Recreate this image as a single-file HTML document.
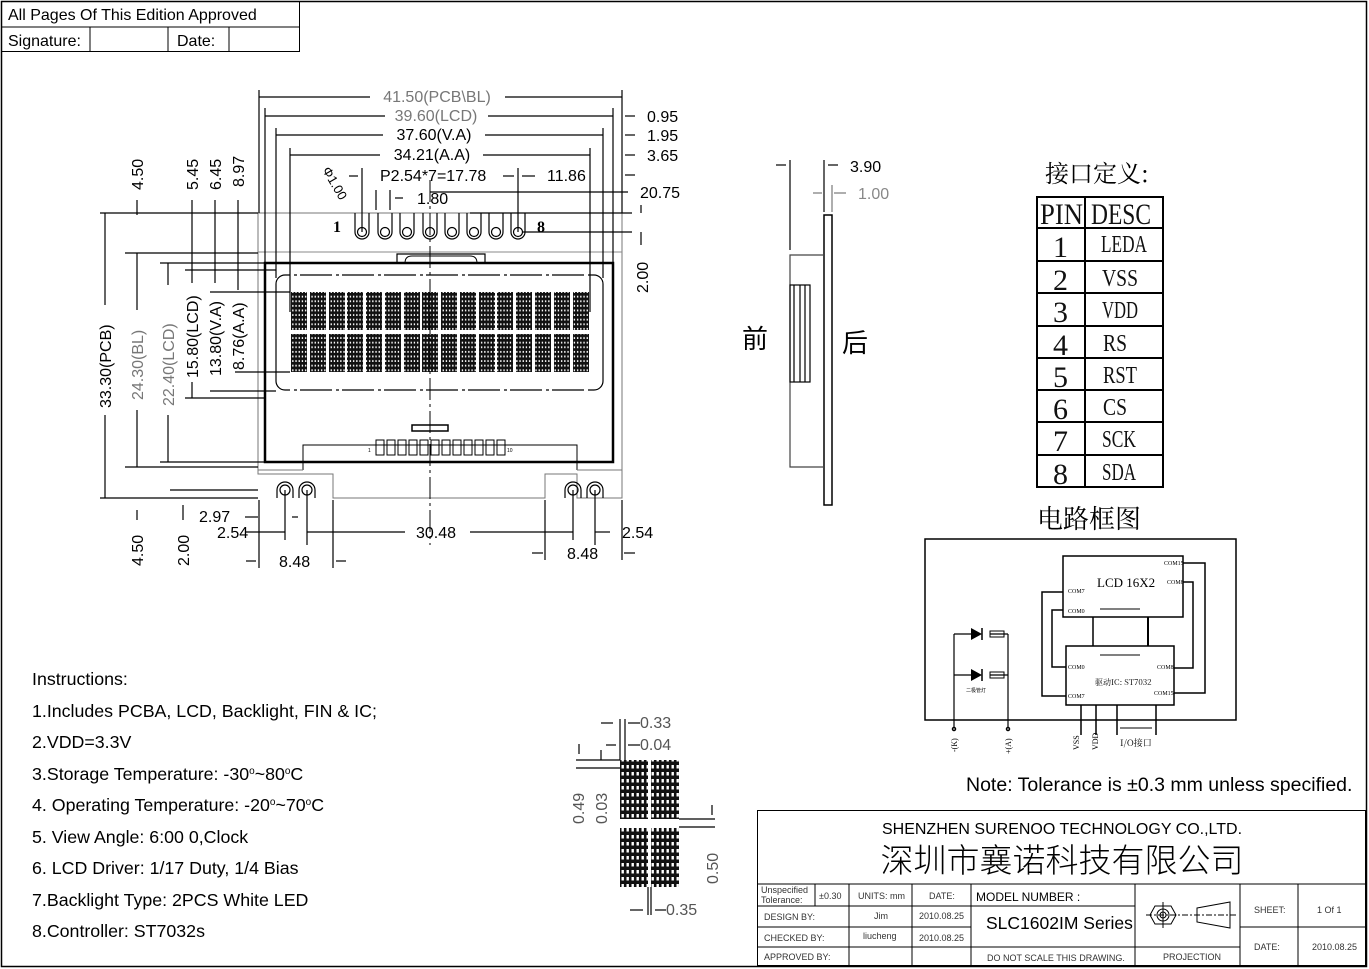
<!DOCTYPE html>
<html><head><meta charset="utf-8"><style>
html,body{margin:0;padding:0;background:#fff;}
svg{display:block;font-family:"Liberation Sans","Noto Sans CJK SC",sans-serif;}
.s{font-family:"Liberation Serif","Noto Serif CJK SC",serif;}
</style></head><body>
<svg width="1369" height="969" viewBox="0 0 1369 969" xmlns="http://www.w3.org/2000/svg">
<defs>
<pattern id="dots" width="3.2" height="4.6" patternUnits="userSpaceOnUse">
<rect width="3.2" height="4.6" fill="#111"/><rect x="1" y="1.3" width="1.3" height="1.9" fill="#fff"/>
</pattern>
<pattern id="dots2" width="5" height="7" patternUnits="userSpaceOnUse">
<rect width="5" height="7" fill="#111"/><rect x="1.5" y="2" width="2.4" height="3.5" fill="#fff"/>
</pattern>
</defs>
<rect width="1369" height="969" fill="#fff"/>
<rect x="1.5" y="1.5" width="1365" height="965" fill="none" stroke="#000" stroke-width="1.5"/>
<g stroke="#000" stroke-width="1" fill="none">
<rect x="1.5" y="1.5" width="298" height="50"/>
<line x1="1" y1="27" x2="300" y2="27"/>
<line x1="90" y1="27" x2="90" y2="51"/><line x1="168" y1="27" x2="168" y2="51"/><line x1="229" y1="27" x2="229" y2="51"/>
</g>
<g font-size="16" fill="#000">
<text x="8" y="20">All Pages Of This Edition Approved</text>
<text x="8" y="46">Signature:</text><text x="177" y="46">Date:</text>
</g>

<g stroke="#000" fill="none" stroke-width="1">
<path d="M258,213 H622 V498 H577 V474 H545 V498 H333 V474 H258 Z" stroke="#777"/>
<line x1="258" y1="252" x2="622" y2="252" stroke="#888"/>
<path d="M397,263 V254 H485 V263" stroke-width="1.2"/>
<path d="M405,263 Q405,256 412,256 H470 Q477,256 477,263"/>
<rect x="265" y="263" width="348" height="199" stroke-width="2.5"/>
<rect x="276" y="275" width="327" height="115" rx="9" stroke-width="1.2"/>
<line x1="290" y1="275" x2="590" y2="275" stroke="#fff" stroke-width="2.5" stroke-dasharray="4 3 3 32"/>
<line x1="290" y1="390" x2="590" y2="390" stroke="#fff" stroke-width="2.5" stroke-dasharray="4 3 3 32"/>
<path d="M303,470 V445 H577 V470" />
<path d="M258,470 H303 M577,470 H622" stroke="#777"/>
<rect x="412" y="425" width="36" height="6" stroke-width="1.5"/>
</g>
<g stroke="#000" fill="none" stroke-width="1">
<rect x="376" y="440" width="8" height="15"/><rect x="387" y="440" width="8" height="15"/><rect x="398" y="440" width="8" height="15"/><rect x="409" y="440" width="8" height="15"/><rect x="420" y="440" width="8" height="15"/><rect x="431" y="440" width="8" height="15"/><rect x="442" y="440" width="8" height="15"/><rect x="453" y="440" width="8" height="15"/><rect x="464" y="440" width="8" height="15"/><rect x="475" y="440" width="8" height="15"/><rect x="486" y="440" width="8" height="15"/><rect x="497" y="440" width="8" height="15"/>
</g>
<text x="368" y="452" font-size="5">1</text><text x="507" y="452" font-size="5">10</text>
<g fill="url(#dots)">
<rect x="291" y="292" width="16" height="38"/><rect x="310" y="292" width="16" height="38"/><rect x="329" y="292" width="16" height="38"/><rect x="347" y="292" width="16" height="38"/><rect x="366" y="292" width="16" height="38"/><rect x="385" y="292" width="16" height="38"/><rect x="404" y="292" width="16" height="38"/><rect x="422" y="292" width="16" height="38"/><rect x="441" y="292" width="16" height="38"/><rect x="460" y="292" width="16" height="38"/><rect x="479" y="292" width="16" height="38"/><rect x="497" y="292" width="16" height="38"/><rect x="516" y="292" width="16" height="38"/><rect x="535" y="292" width="16" height="38"/><rect x="554" y="292" width="16" height="38"/><rect x="573" y="292" width="16" height="38"/>
<rect x="291" y="334" width="16" height="38"/><rect x="310" y="334" width="16" height="38"/><rect x="329" y="334" width="16" height="38"/><rect x="347" y="334" width="16" height="38"/><rect x="366" y="334" width="16" height="38"/><rect x="385" y="334" width="16" height="38"/><rect x="404" y="334" width="16" height="38"/><rect x="422" y="334" width="16" height="38"/><rect x="441" y="334" width="16" height="38"/><rect x="460" y="334" width="16" height="38"/><rect x="479" y="334" width="16" height="38"/><rect x="497" y="334" width="16" height="38"/><rect x="516" y="334" width="16" height="38"/><rect x="535" y="334" width="16" height="38"/><rect x="554" y="334" width="16" height="38"/><rect x="573" y="334" width="16" height="38"/>
</g>
<g stroke="#000" fill="none" stroke-width="1.2">
<path d="M355,213 V232 A7,7 0 0 0 369,232 V213"/><circle cx="362" cy="232" r="4.5"/>
<path d="M378,213 V232 A7,7 0 0 0 392,232 V213"/><circle cx="385" cy="232" r="4.5"/>
<path d="M400,213 V232 A7,7 0 0 0 414,232 V213"/><circle cx="407" cy="232" r="4.5"/>
<path d="M423,213 V232 A7,7 0 0 0 437,232 V213"/><circle cx="430" cy="232" r="4.5"/>
<path d="M445,213 V232 A7,7 0 0 0 459,232 V213"/><circle cx="452" cy="232" r="4.5"/>
<path d="M467,213 V232 A7,7 0 0 0 481,232 V213"/><circle cx="474" cy="232" r="4.5"/>
<path d="M489,213 V232 A7,7 0 0 0 503,232 V213"/><circle cx="496" cy="232" r="4.5"/>
<path d="M511,213 V232 A7,7 0 0 0 525,232 V213"/><circle cx="518" cy="232" r="4.5"/>
<path d="M277,498 V490 A8,8 0 0 1 293,490 V498"/><circle cx="285" cy="490" r="5"/>
<path d="M299,498 V490 A8,8 0 0 1 315,490 V498"/><circle cx="307" cy="490" r="5"/>
<path d="M565,498 V490 A8,8 0 0 1 581,490 V498"/><circle cx="573" cy="490" r="5"/>
<path d="M587,498 V490 A8,8 0 0 1 603,490 V498"/><circle cx="595" cy="490" r="5"/>
</g>
<text x="333" y="232" class="s" font-size="16" font-weight="bold">1</text>
<text x="537" y="232" class="s" font-size="16" font-weight="bold">8</text>
<line x1="430" y1="180" x2="430" y2="545" stroke="#000" stroke-width="1" stroke-dasharray="22 4 3 4"/>

<g stroke="#000" stroke-width="1.2" fill="none">
<line x1="259" y1="90" x2="259" y2="213"/><line x1="622" y1="90" x2="622" y2="213"/>
<line x1="265" y1="108" x2="265" y2="263"/><line x1="613" y1="108" x2="613" y2="263"/>
<line x1="276" y1="128" x2="276" y2="278"/><line x1="603" y1="128" x2="603" y2="278"/>
<line x1="290" y1="148" x2="290" y2="312"/><line x1="590" y1="148" x2="590" y2="312"/>
<line x1="259" y1="97" x2="370" y2="97"/><line x1="505" y1="97" x2="622" y2="97"/>
<line x1="265" y1="116" x2="385" y2="116"/><line x1="488" y1="116" x2="613" y2="116"/>
<line x1="276" y1="135" x2="383" y2="135"/><line x1="485" y1="135" x2="603" y2="135"/>
<line x1="290" y1="155" x2="380" y2="155"/><line x1="483" y1="155" x2="590" y2="155"/>
<line x1="362" y1="168" x2="362" y2="232"/><line x1="518" y1="168" x2="518" y2="232"/>
<line x1="349" y1="176" x2="358" y2="176"/><line x1="503" y1="176" x2="514" y2="176"/><line x1="522" y1="176" x2="535" y2="176"/>
<line x1="376" y1="190" x2="376" y2="210"/><line x1="390" y1="190" x2="390" y2="210"/>
<line x1="395" y1="198" x2="403" y2="198"/>
<line x1="430" y1="192" x2="628" y2="192"/>
<line x1="522" y1="232" x2="632" y2="232"/>
<line x1="470" y1="213" x2="632" y2="213"/>
<line x1="625" y1="116" x2="635" y2="116"/><line x1="625" y1="135" x2="635" y2="135"/><line x1="625" y1="155" x2="635" y2="155"/><line x1="625" y1="175" x2="635" y2="175"/>
<line x1="641" y1="205" x2="641" y2="213"/><line x1="641" y1="232" x2="641" y2="245"/>
<line x1="100" y1="213" x2="258" y2="213"/><line x1="125" y1="253" x2="258" y2="253"/>
<line x1="160" y1="263" x2="265" y2="263"/><line x1="185" y1="270" x2="276" y2="270"/>
<line x1="210" y1="292" x2="290" y2="292"/><line x1="235" y1="372" x2="290" y2="372"/>
<line x1="185" y1="398" x2="265" y2="398"/><line x1="210" y1="391" x2="276" y2="391"/>
<line x1="160" y1="462" x2="265" y2="462"/><line x1="125" y1="467" x2="258" y2="467"/>
<line x1="100" y1="498" x2="258" y2="498"/>
<line x1="105" y1="213" x2="105" y2="305"/><line x1="105" y1="415" x2="105" y2="498"/>
<line x1="137" y1="253" x2="137" y2="310"/><line x1="137" y1="410" x2="137" y2="467"/>
<line x1="168" y1="263" x2="168" y2="285"/><line x1="168" y1="415" x2="168" y2="462"/>
<line x1="192" y1="200" x2="192" y2="283"/><line x1="192" y1="382" x2="192" y2="398"/>
<line x1="215" y1="200" x2="215" y2="283"/><line x1="238" y1="200" x2="238" y2="290"/>
<line x1="137" y1="200" x2="137" y2="215"/>
<line x1="285" y1="490" x2="285" y2="540"/><line x1="307" y1="490" x2="307" y2="545"/>
<line x1="573" y1="490" x2="573" y2="540"/><line x1="595" y1="490" x2="595" y2="545"/>
<line x1="259" y1="500" x2="259" y2="568"/><line x1="622" y1="500" x2="622" y2="560"/>
<line x1="333" y1="500" x2="333" y2="568"/><line x1="545" y1="500" x2="545" y2="560"/>
<line x1="245" y1="532" x2="285" y2="532"/><line x1="307" y1="532" x2="405" y2="532"/><line x1="470" y1="532" x2="573" y2="532"/><line x1="595" y1="532" x2="610" y2="532"/>
<line x1="245" y1="517" x2="258" y2="517"/><line x1="292" y1="517" x2="298" y2="517"/>
<line x1="246" y1="561" x2="256" y2="561"/><line x1="336" y1="561" x2="346" y2="561"/>
<line x1="532" y1="553" x2="543" y2="553"/><line x1="624" y1="553" x2="635" y2="553"/>
<line x1="137" y1="510" x2="137" y2="520"/><line x1="183" y1="505" x2="183" y2="520"/>
<line x1="170" y1="490" x2="258" y2="490"/>
</g>
<g font-size="16" fill="#000">
<text x="437" y="102" text-anchor="middle" fill="#777">41.50(PCB\BL)</text>
<text x="436" y="121" text-anchor="middle" fill="#777">39.60(LCD)</text>
<text x="434" y="140" text-anchor="middle">37.60(V.A)</text>
<text x="432" y="160" text-anchor="middle">34.21(A.A)</text>
<text x="380" y="181">P2.54*7=17.78</text>
<text x="547" y="181">11.86</text>
<text x="417" y="204">1.80</text>
<text x="647" y="122">0.95</text><text x="647" y="141">1.95</text><text x="647" y="161">3.65</text>
<text x="640" y="198">20.75</text>
<text x="0" y="0" transform="translate(322,170) rotate(60)" font-size="13">Φ1.00</text>
<text x="0" y="0" transform="translate(648,293) rotate(-90)">2.00</text>
<text x="0" y="0" transform="translate(143,190) rotate(-90)">4.50</text>
<text x="0" y="0" transform="translate(198,190) rotate(-90)">5.45</text>
<text x="0" y="0" transform="translate(221,190) rotate(-90)">6.45</text>
<text x="0" y="0" transform="translate(244,187) rotate(-90)">8.97</text>
<text x="0" y="0" transform="translate(111,408) rotate(-90)">33.30(PCB)</text>
<text x="0" y="0" transform="translate(143,400) rotate(-90)" fill="#777">24.30(BL)</text>
<text x="0" y="0" transform="translate(174,406) rotate(-90)" fill="#777">22.40(LCD)</text>
<text x="0" y="0" transform="translate(198,378) rotate(-90)">15.80(LCD)</text>
<text x="0" y="0" transform="translate(221,376) rotate(-90)">13.80(V.A)</text>
<text x="0" y="0" transform="translate(244,370) rotate(-90)">8.76(A.A)</text>
<text x="199" y="522">2.97</text><text x="217" y="538">2.54</text>
<text x="416" y="538">30.48</text><text x="622" y="538">2.54</text>
<text x="279" y="567">8.48</text><text x="567" y="559">8.48</text>
<text x="0" y="0" transform="translate(143,566) rotate(-90)">4.50</text>
<text x="0" y="0" transform="translate(189,566) rotate(-90)">2.00</text>
</g>

<g stroke="#000" fill="none" stroke-width="1.2">
<rect x="824" y="215" width="8" height="290" stroke-width="1.5"/>
<path d="M824,255 H790 V467 H824" stroke="#444"/>
<rect x="790" y="285" width="20" height="97" stroke-width="1.2"/>
<line x1="794" y1="285" x2="794" y2="382"/><line x1="800" y1="285" x2="800" y2="382"/><line x1="805" y1="285" x2="805" y2="382"/>
<line x1="790" y1="160" x2="790" y2="250"/><line x1="824" y1="160" x2="824" y2="212"/>
<line x1="776" y1="165" x2="786" y2="165"/><line x1="828" y1="165" x2="838" y2="165"/>
<line x1="813" y1="193" x2="822" y2="193" stroke="#777"/><line x1="834" y1="193" x2="846" y2="193" stroke="#777"/>
<line x1="832" y1="185" x2="832" y2="212" stroke="#777"/>
</g>
<text x="850" y="172" font-size="16">3.90</text>
<text x="858" y="199" font-size="16" fill="#888">1.00</text>
<text x="742" y="348" font-size="26" font-family="Noto Sans CJK SC,sans-serif">前</text>
<text x="842" y="352" font-size="26" font-family="Noto Sans CJK SC,sans-serif">后</text>

<text x="1045" y="182" font-size="24" font-family="Noto Serif CJK SC,serif">接口定义:</text>
<g stroke="#000" stroke-width="2" fill="none">
<rect x="1037" y="197" width="126" height="290"/>
<line x1="1085" y1="197" x2="1085" y2="487"/>
<line x1="1037" y1="228" x2="1163" y2="228"/><line x1="1037" y1="261" x2="1163" y2="261"/><line x1="1037" y1="293" x2="1163" y2="293"/><line x1="1037" y1="326" x2="1163" y2="326"/><line x1="1037" y1="358" x2="1163" y2="358"/><line x1="1037" y1="390" x2="1163" y2="390"/><line x1="1037" y1="422" x2="1163" y2="422"/><line x1="1037" y1="455" x2="1163" y2="455"/>
</g>
<g class="s" font-size="30" fill="#111">
<text x="1040" y="224" textLength="43" lengthAdjust="spacingAndGlyphs">PIN</text>
<text x="1091" y="224" textLength="60" lengthAdjust="spacingAndGlyphs">DESC</text>
<text x="1053" y="257">1</text><text x="1053" y="290">2</text><text x="1053" y="322">3</text><text x="1053" y="355">4</text><text x="1053" y="387">5</text><text x="1053" y="419">6</text><text x="1053" y="451">7</text><text x="1053" y="484">8</text>
</g>
<g class="s" font-size="24" fill="#111">
<text x="1101" y="252" textLength="46" lengthAdjust="spacingAndGlyphs">LEDA</text>
<text x="1102" y="286" textLength="36" lengthAdjust="spacingAndGlyphs">VSS</text>
<text x="1102" y="318" textLength="36" lengthAdjust="spacingAndGlyphs">VDD</text>
<text x="1103" y="351" textLength="24" lengthAdjust="spacingAndGlyphs">RS</text>
<text x="1103" y="383" textLength="34" lengthAdjust="spacingAndGlyphs">RST</text>
<text x="1103" y="415" textLength="24" lengthAdjust="spacingAndGlyphs">CS</text>
<text x="1102" y="447" textLength="34" lengthAdjust="spacingAndGlyphs">SCK</text>
<text x="1102" y="480" textLength="34" lengthAdjust="spacingAndGlyphs">SDA</text>
</g>
<text x="1037" y="528" font-size="26" font-family="Noto Serif CJK SC,serif">电路框图</text>

<g stroke="#000" fill="none" stroke-width="1.5">
<rect x="925" y="539" width="311" height="181"/>
<rect x="1063" y="556" width="120" height="61"/>
<rect x="1066" y="646" width="108" height="59"/>
<path d="M1063,592 H1042 V696 H1066"/>
<path d="M1063,610 H1052 V667 H1066"/>
<path d="M1183,563 H1205 V693 H1174"/>
<path d="M1183,582 H1193 V668 H1174"/>
<line x1="1093" y1="617" x2="1093" y2="646"/><line x1="1148" y1="617" x2="1148" y2="646" stroke-width="2"/>
<line x1="1081" y1="705" x2="1081" y2="735"/><line x1="1096" y1="705" x2="1096" y2="735"/><line x1="1117" y1="705" x2="1117" y2="735"/><line x1="1156" y1="705" x2="1156" y2="735"/>
<line x1="1120" y1="728" x2="1152" y2="728" stroke-width="1"/>
<line x1="1100" y1="609" x2="1140" y2="609" stroke-width="1"/>
<line x1="1100" y1="655" x2="1140" y2="655" stroke-width="1"/>
<path d="M954,634 V727 M1008,634 V727" stroke-width="1.2"/>
<path d="M954,634 H971 M990,634 H1008 M954,675 H971 M990,675 H1008" stroke-width="1.2"/>
<rect x="990" y="631" width="14" height="6" stroke-width="1"/>
<rect x="990" y="672" width="14" height="6" stroke-width="1"/>
<circle cx="954" cy="729" r="1.5"/><circle cx="1008" cy="729" r="1.5"/>
</g>
<path d="M971,628 V640 L982,634 Z M971,669 V681 L982,675 Z" fill="#000"/>
<path d="M982,628 V640 M982,669 V681" stroke="#000" stroke-width="1.5"/>
<g font-size="6" class="s" fill="#000">
<text x="1097" y="587" font-size="13">LCD 16X2</text>
<text x="1068" y="593">COM7</text><text x="1068" y="613">COM0</text>
<text x="1164" y="565">COM15</text><text x="1167" y="584">COM8</text>
<text x="1068" y="669">COM0</text><text x="1068" y="698">COM7</text>
<text x="1157" y="669">COM8</text><text x="1154" y="695">COM15</text>
<text x="1095" y="685" font-size="8" font-family="Noto Serif CJK SC,serif">驱动IC: ST7032</text>
<text x="966" y="692" font-size="5" font-family="Noto Sans CJK SC,sans-serif">二极管灯</text>
<text x="1120" y="746" font-size="9" font-family="Noto Serif CJK SC,serif">I/O接口</text>
<text x="0" y="0" transform="translate(1079,750) rotate(-90)" font-size="8">VSS</text>
<text x="0" y="0" transform="translate(1098,750) rotate(-90)" font-size="8">VDD</text>
<text x="0" y="0" transform="translate(957,752) rotate(-90)" font-size="8">-(K)</text>
<text x="0" y="0" transform="translate(1011,754) rotate(-90)" font-size="8">+(A)</text>
</g>

<text x="966" y="791" font-size="19.5">Note: Tolerance is ±0.3 mm unless specified.</text>

<g font-size="17.8" fill="#000">
<text x="32" y="685">Instructions:</text>
<text x="32" y="717">1.Includes PCBA, LCD, Backlight, FIN &amp; IC;</text>
<text x="32" y="748">2.VDD=3.3V</text>
<text x="32" y="780">3.Storage Temperature: -30<tspan font-size="10" dy="-6">o</tspan><tspan dy="6">~80</tspan><tspan font-size="10" dy="-6">o</tspan><tspan dy="6">C</tspan></text>
<text x="32" y="811">4. Operating Temperature: -20<tspan font-size="10" dy="-6">o</tspan><tspan dy="6">~70</tspan><tspan font-size="10" dy="-6">o</tspan><tspan dy="6">C</tspan></text>
<text x="32" y="843">5. View Angle: 6:00 0,Clock</text>
<text x="32" y="874">6. LCD Driver: 1/17 Duty, 1/4 Bias</text>
<text x="32" y="906">7.Backlight Type: 2PCS White LED</text>
<text x="32" y="937">8.Controller: ST7032s</text>
</g>

<g fill="url(#dots2)">
<rect x="620" y="760" width="28" height="59"/><rect x="651" y="760" width="28" height="59"/>
<rect x="620" y="828" width="28" height="59"/><rect x="651" y="828" width="28" height="59"/>
</g>
<g stroke="#000" stroke-width="1.2" fill="none">
<line x1="620" y1="719" x2="620" y2="760"/><line x1="625" y1="719" x2="625" y2="760"/>
<line x1="601" y1="723" x2="613" y2="723"/><line x1="628" y1="723" x2="640" y2="723"/>
<line x1="606" y1="745" x2="616" y2="745"/><line x1="628" y1="745" x2="640" y2="745"/>
<line x1="576" y1="760" x2="620" y2="760"/><line x1="576" y1="768" x2="620" y2="768"/>
<line x1="579" y1="744" x2="579" y2="754"/><line x1="601" y1="750" x2="601" y2="760"/>
<line x1="679" y1="819" x2="715" y2="819"/><line x1="679" y1="827" x2="715" y2="827"/>
<line x1="712" y1="805" x2="712" y2="815"/>
<line x1="648" y1="887" x2="648" y2="915"/><line x1="651" y1="887" x2="651" y2="915"/>
<line x1="630" y1="910" x2="643" y2="910"/><line x1="655" y1="910" x2="666" y2="910"/>
</g>
<g font-size="16" fill="#555">
<text x="640" y="728">0.33</text><text x="640" y="750">0.04</text><text x="666" y="915">0.35</text>
<text x="0" y="0" transform="translate(584,824) rotate(-90)">0.49</text>
<text x="0" y="0" transform="translate(607,824) rotate(-90)">0.03</text>
<text x="0" y="0" transform="translate(718,884) rotate(-90)">0.50</text>
</g>

<g stroke="#000" fill="none" stroke-width="1">
<rect x="757.5" y="810.5" width="608" height="155"/>
<line x1="757" y1="884" x2="1366" y2="884"/>
<line x1="757" y1="906" x2="1135" y2="906"/><line x1="757" y1="927" x2="971" y2="927"/><line x1="757" y1="947" x2="1240" y2="947"/>
<line x1="1240" y1="927" x2="1366" y2="927"/>
<line x1="815" y1="884" x2="815" y2="906"/><line x1="849" y1="884" x2="849" y2="966"/>
<line x1="912" y1="884" x2="912" y2="966"/><line x1="971" y1="884" x2="971" y2="966"/>
<line x1="1135" y1="884" x2="1135" y2="966"/><line x1="1240" y1="884" x2="1240" y2="966"/>
<line x1="1298" y1="884" x2="1298" y2="966"/>
<circle cx="1163" cy="915" r="6"/><circle cx="1163" cy="915" r="3"/>
<path d="M1155,906 L1171,906 L1176,915 L1171,924 L1155,924 L1150,915 Z"/>
<line x1="1163" y1="902" x2="1163" y2="928"/>
<path d="M1197,908 L1230,902 L1230,928 L1197,922 Z"/>
<line x1="1146" y1="915" x2="1236" y2="915" stroke-dasharray="6 2 2 2"/>
</g>
<text x="1062" y="834" font-size="16" text-anchor="middle">SHENZHEN SURENOO TECHNOLOGY CO.,LTD.</text>
<text x="1062" y="872" font-size="33" text-anchor="middle" font-family="Noto Sans CJK SC,sans-serif" font-weight="300">深圳市襄诺科技有限公司</text>
<g font-size="9" fill="#333">
<text x="761" y="893">Unspecified</text><text x="761" y="903">Tolerance:</text>
<text x="819" y="899">±0.30</text><text x="858" y="899">UNITS: mm</text><text x="929" y="899">DATE:</text>
<text x="764" y="920">DESIGN    BY:</text><text x="874" y="919">Jim</text><text x="919" y="919">2010.08.25</text>
<text x="764" y="941">CHECKED  BY:</text><text x="863" y="939">liucheng</text><text x="919" y="941">2010.08.25</text>
<text x="764" y="960">APPROVED BY:</text>
<text x="987" y="961">DO NOT SCALE THIS DRAWING.</text>
<text x="1163" y="960">PROJECTION</text>
<text x="1254" y="913">SHEET:</text><text x="1317" y="913">1  Of  1</text>
<text x="1254" y="950">DATE:</text><text x="1312" y="950">2010.08.25</text>
</g>
<text x="976" y="901" font-size="12">MODEL NUMBER :</text>
<text x="986" y="929" font-size="17.5">SLC1602IM Series</text>
</svg>
</body></html>
